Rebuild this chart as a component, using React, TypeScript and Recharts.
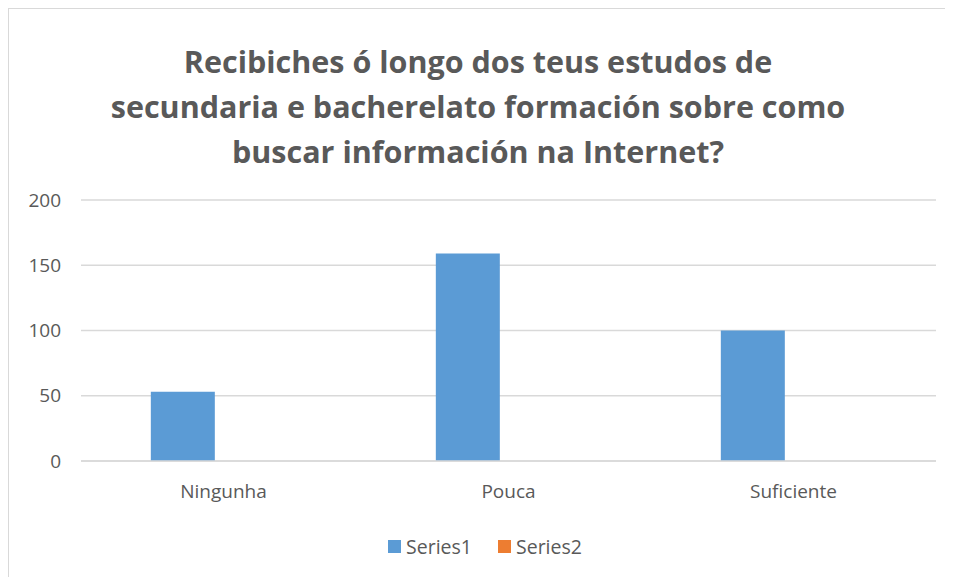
import React from "react";
import { BarChart, Bar, XAxis, YAxis, CartesianGrid, Legend } from "recharts";

const categories = ["Ningunha", "Pouca", "Suficiente"];
const series1 = [53, 159, 100];
const series2 = [0, 0, 0];
const yTicks = [0, 50, 100, 150, 200];

const data = categories.map((name, i) => ({
  name,
  Series1: series1[i],
  Series2: series2[i],
}));

const TEXT = "#595959";
const FONT = "'Open Sans', 'Noto Sans', sans-serif";

const renderLegend = (props: any) => (
  <div style={{ display: "flex", justifyContent: "center", gap: 26, paddingLeft: 25 }}>
    {(props.payload || []).map((entry: any) => (
      <div key={entry.value} style={{ display: "flex", alignItems: "center" }}>
        <span
          style={{ width: 13, height: 13, background: entry.color, marginRight: 5, display: "inline-block" }}
        />
        <span style={{ color: TEXT, fontSize: 19.5, fontFamily: FONT }}>{entry.value}</span>
      </div>
    ))}
  </div>
);

export default function App() {
  return (
    <div
      style={{
        position: "relative",
        width: 938,
        height: 569,
        border: "1px solid #d9d9d9",
        borderBottom: "none",
        background: "#fff",
        fontFamily: FONT,
        boxSizing: "border-box",
      }}
    >
      <div
        style={{
          position: "absolute",
          top: 30,
          left: 0,
          width: 938,
          textAlign: "center",
          color: TEXT,
          fontWeight: 700,
          fontSize: 30.5,
          lineHeight: "45px",
        }}
      >
        Recibiches ó longo dos teus estudos de
        <br />
        secundaria e bacherelato formación sobre como
        <br />
        buscar información na Internet?
      </div>
      <BarChart
        width={938}
        height={568}
        data={data}
        margin={{ top: 191, right: 11, bottom: 12, left: 0 }}
        barCategoryGap="24.5%"
        barGap={17}
        style={{ position: "absolute", top: 0, left: 0 }}
      >
        <CartesianGrid vertical={false} stroke="#d9d9d9" strokeWidth={1.5} />
        <XAxis
          dataKey="name"
          axisLine={{ stroke: "#d9d9d9", strokeWidth: 1.5 }}
          tickLine={false}
          tick={{ fill: TEXT, fontSize: 19, fontFamily: FONT }}
          tickMargin={18}
          height={77}
        />
        <YAxis
          domain={[0, 200]}
          ticks={yTicks}
          axisLine={false}
          tickLine={false}
          width={72}
          tick={{ fill: TEXT, fontSize: 19, fontFamily: FONT }}
          tickMargin={14}
        />
        <Legend verticalAlign="bottom" content={renderLegend} wrapperStyle={{ top: 524 }} />
        <Bar dataKey="Series1" fill="#5b9bd5" isAnimationActive={false} />
        <Bar dataKey="Series2" fill="#ed7d31" isAnimationActive={false} />
      </BarChart>
    </div>
  );
}
